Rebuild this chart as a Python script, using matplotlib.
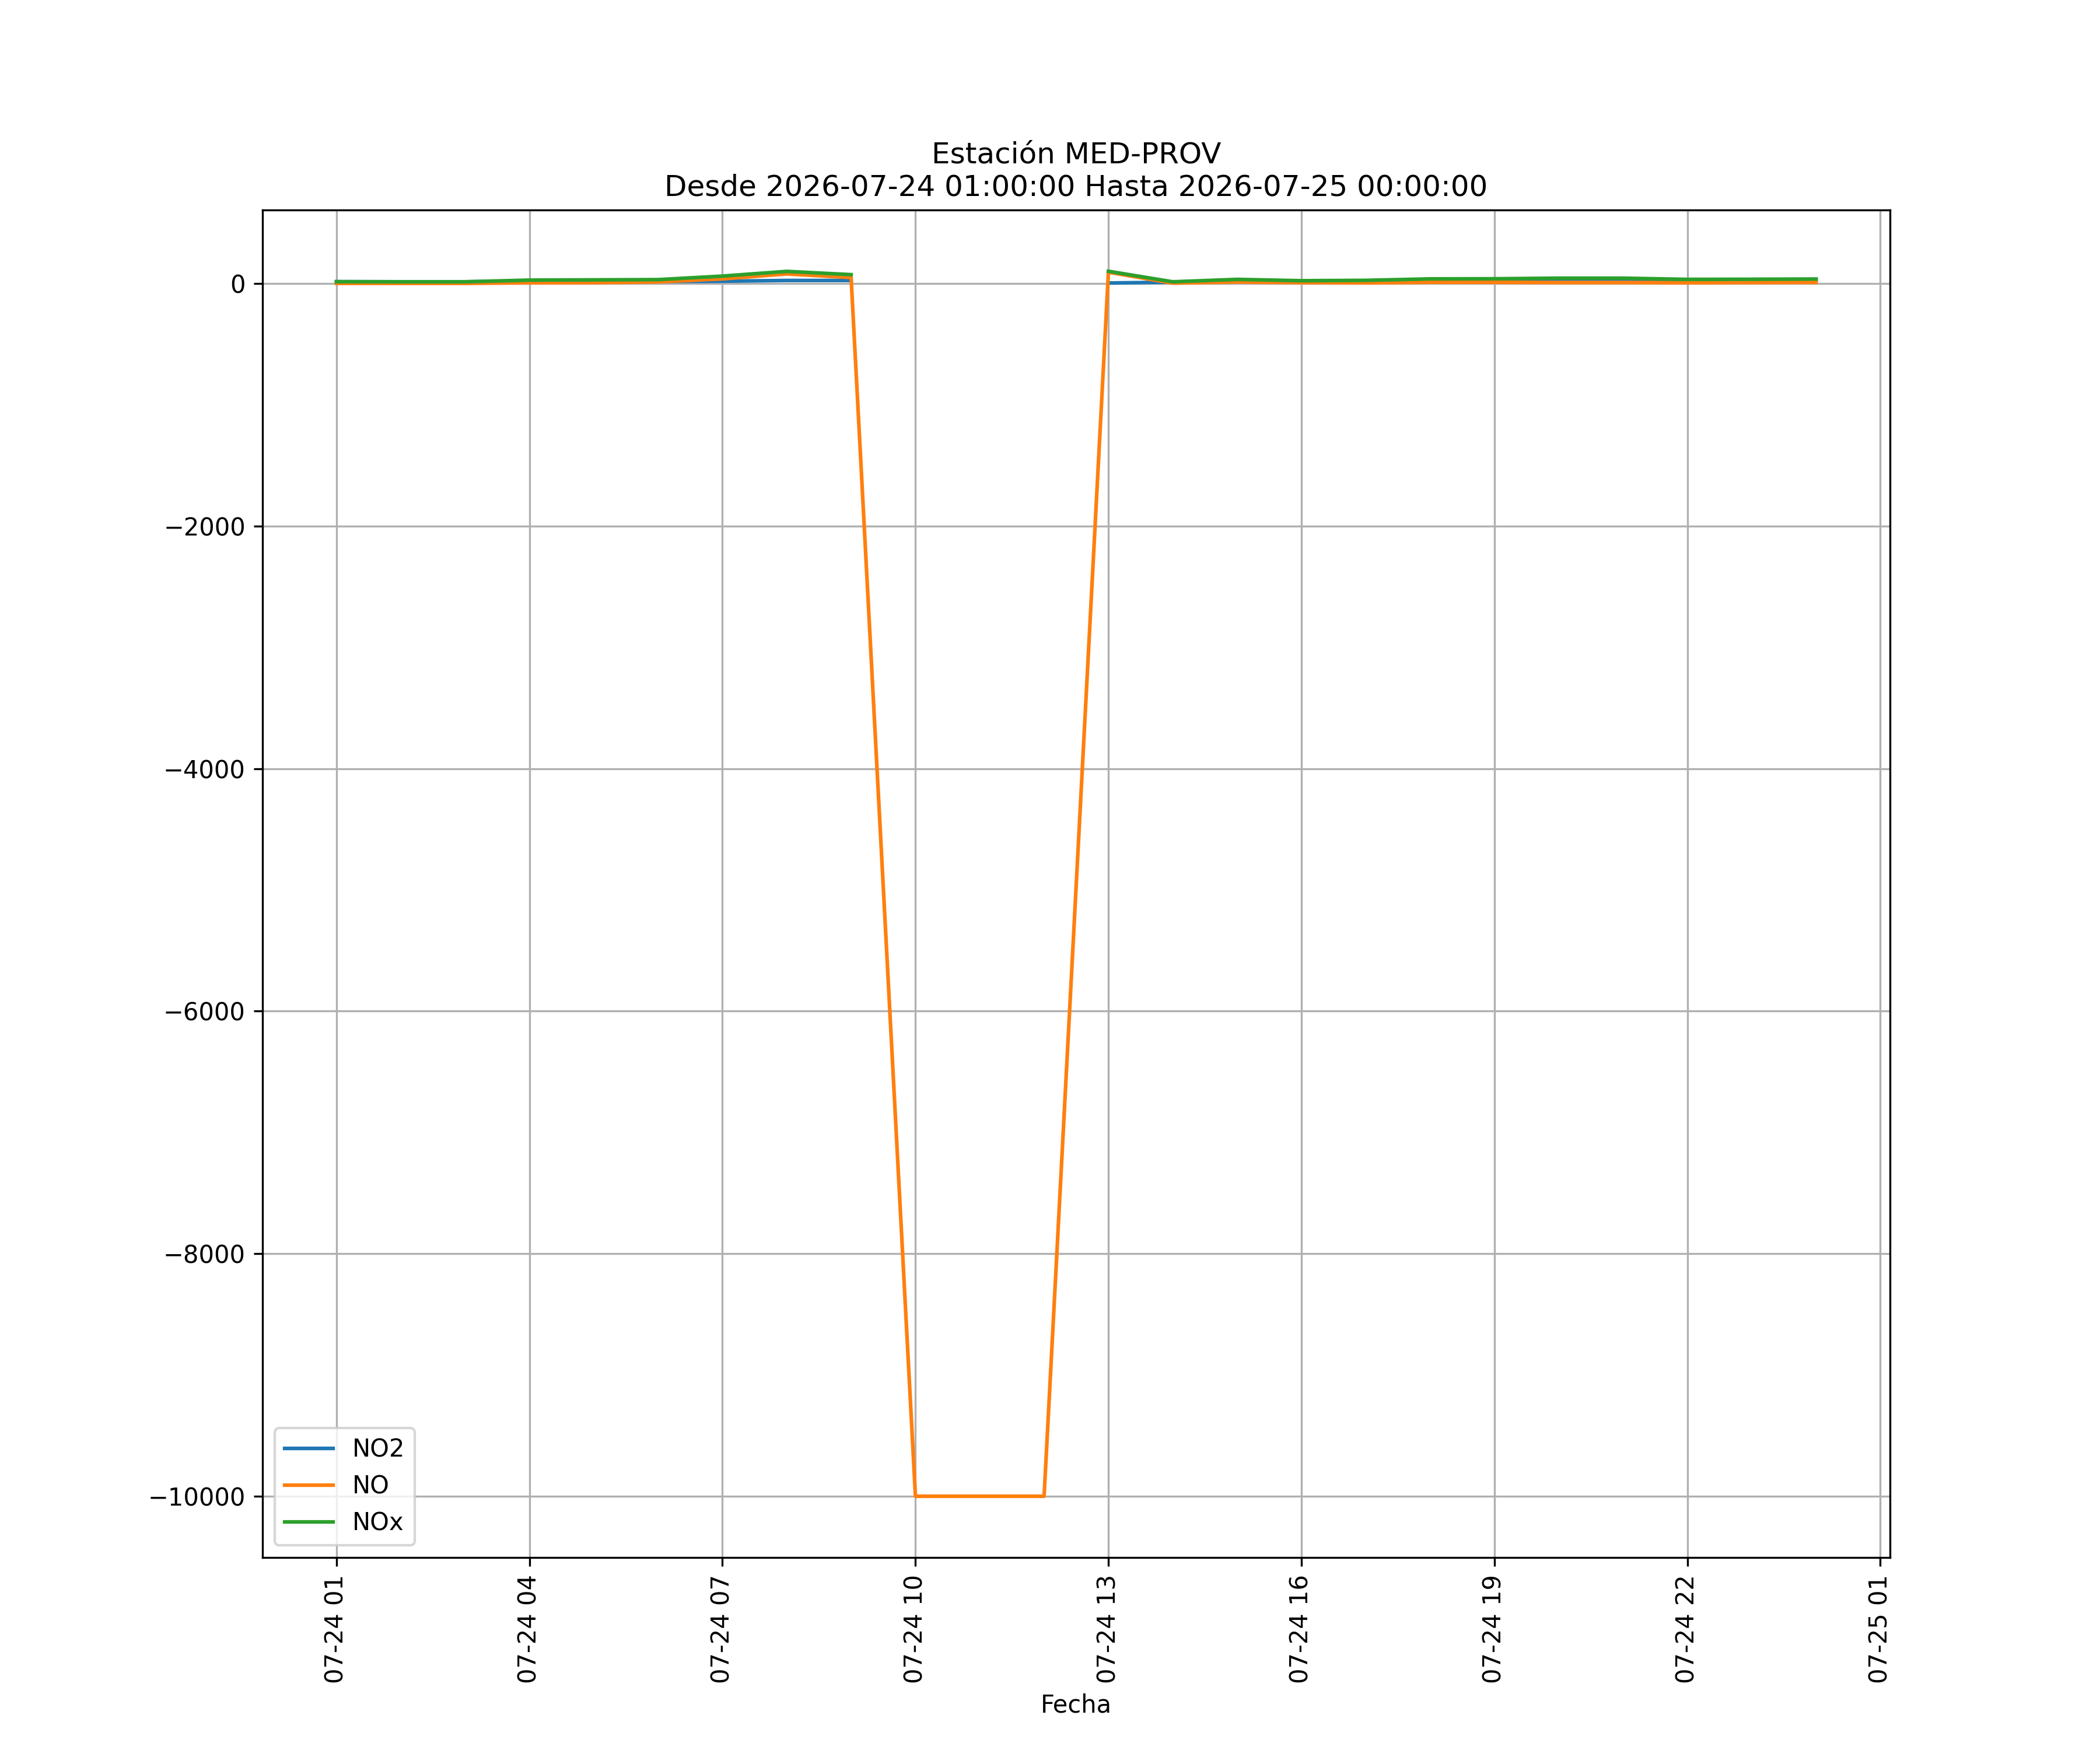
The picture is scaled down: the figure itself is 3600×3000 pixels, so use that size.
import numpy as np
import pandas as pd
import matplotlib
matplotlib.use("Agg")
import matplotlib.pyplot as plt
import matplotlib.dates as mdates

fechas = pd.date_range("2026-07-24 01:00:00", "2026-07-25 00:00:00", freq="h")

no2 = [14, 13, 13, 21, 22, 16, 18, 24, 24, np.nan, np.nan, np.nan,
       3, 10, 20, 16, 21, 28, 29, 35, 35, 28, 27, 28]
no = [0, 0, 0, 5, 6, 12, 37, 78, 48, -9999, -9999, -9999,
      92, 2, 12, 6, 4, 9, 9, 7, 7, 5, 7, 8]
nox = [14, 13, 13, 27, 29, 31, 60, 99, 72, np.nan, np.nan, np.nan,
       100, 13, 33, 22, 25, 37, 38, 43, 43, 33, 34, 36]

series = ["NO2", "NO", "NOx"]
titulo = "Estación MED-PROV\nDesde 2026-07-24 01:00:00 Hasta 2026-07-25 00:00:00"

fig, ax = plt.subplots(figsize=(12, 10), dpi=300)
for name, vals in zip(series, [no2, no, nox]):
    ax.plot(fechas, vals, label=name)

ax.set_title(titulo)
ax.set_xlabel("Fecha")
ax.xaxis.set_major_locator(mdates.HourLocator(byhour=range(1, 24, 3)))
ax.xaxis.set_major_formatter(mdates.DateFormatter("%m-%d %H"))
plt.setp(ax.get_xticklabels(), rotation=90)
ax.grid(True)
ax.legend(loc="lower left")

fig.savefig("out.png", dpi=300)
